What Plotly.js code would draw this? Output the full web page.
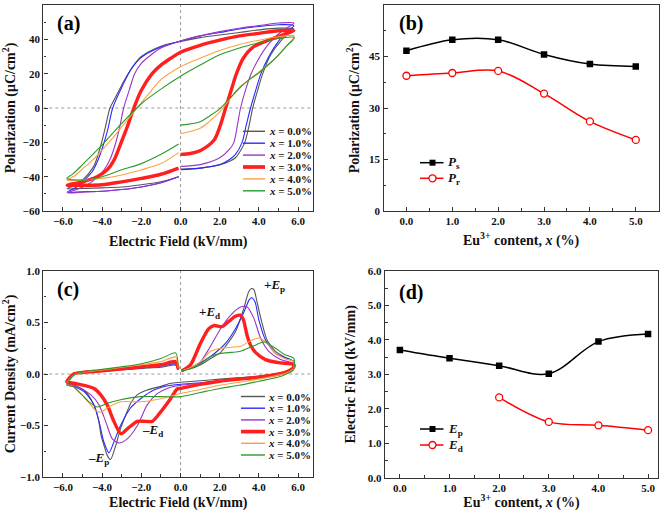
<!DOCTYPE html>
<html><head><meta charset="utf-8">
<script src="https://cdn.plot.ly/plotly-3.0.1.min.js"></script>
<style>html,body{margin:0;padding:0;background:#fff}</style>
</head><body><div id="chart" style="width:661px;height:511px"></div>
<script>
// ---------- DATA ----------
const compLabels = ['0.0', '1.0', '2.0', '3.0', '4.0', '5.0'];

// (a) P-E hysteresis loops (E in kV/mm, P in uC/cm2)
const peE_00 = [0,1,2,2.5,2.8,3.05,3.28,3.5,3.68,3.95,4.19,4.6,5.18,5.5,5.78,5,4,3,2,1,0,-1,-2,-2.38,-2.72,-3.06,-3.4,-3.6,-3.83,-4.09,-4.43,-5,-5.4,-5.78,-5,-4,-3,-2,-1,-0.1];
const peP_00 = [-35.5,-35,-33,-31,-29,-25,-20,-10,0,11,20,31,40,43.5,46,46.5,45.5,44,42.5,41,38.8,36,30,25,19,12,4.5,0,-11,-22.7,-34,-42,-45,-47,-46.8,-46.5,-46,-44.7,-43,-40];
const peE_10 = [0,1,2,2.5,2.8,3.14,3.35,3.57,3.85,4.1,4.5,5,5.4,5.78,5,4,3,2,1,0,-1,-2,-2.5,-3,-3.46,-3.7,-3.95,-4.2,-4.5,-4.9,-5.3,-5.78,-5,-4,-3,-2,-1,-0.1];
const peP_10 = [-36,-35,-33,-30,-27,-20,-10,0,11,20,30,39,44,48,48.5,47.5,46,44,42,39,35.5,29.5,23,12,0,-12,-22,-30,-37,-42,-46,-49,-48.8,-48.5,-47.5,-46,-43.5,-40];
const peE_20 = [0,1,2,2.5,2.72,2.9,3.06,3.3,3.6,3.9,4.25,4.7,5.2,5.78,5,4,3,2,1,0,-1,-1.5,-2,-2.34,-2.6,-2.9,-3.12,-3.35,-3.6,-3.9,-4.3,-4.8,-5.3,-5.78,-5,-4,-3,-2,-1,-0.1];
const peP_20 = [-34,-33,-29,-24,-20,-10,0,10,20,27,33.6,40,45,49.5,49.5,48,46.5,44.5,42,39,35,31,26,20,11,0,-12,-22,-30,-36,-41,-45,-47.5,-49.5,-49,-48.5,-47.5,-46,-43.5,-40];
const peE_30 = [0,0.5,1.02,1.7,2.0,2.3,2.6,2.85,3.2,3.7,4.6,5.2,5.78,5,4,3,2,1,0,-0.5,-1,-1.45,-2,-2.38,-2.72,-3.06,-3.4,-3.74,-4.26,-5,-5.78,-5,-4,-3,-2,-1,-0.1];
const peP_30 = [-27,-26.5,-24.7,-18.8,-11,0,11,20,29,35.5,40,42.5,45,45,43.5,42,39.5,36.5,32.5,29,25,20,10.3,0,-11,-21,-30.5,-36,-40,-43,-45,-45,-44.7,-43,-41,-38.6,-35];
const peE_40 = [0,1,1.5,2,2.5,3,3.5,4,4.5,5,5.4,5.8,5,4,3,2,1,0,-1,-1.5,-2,-2.5,-3,-3.5,-4,-4.5,-5,-5.4,-5.8,-5,-4,-3,-2,-1,-0.1];
const peP_40 = [-15,-11.8,-7.5,-2.3,5,12,16.5,21,25.5,30.7,36,42,41.5,39.5,37,33.5,29,24,16.5,10,3,-4,-11,-18,-24.5,-30.5,-35.5,-39.5,-42,-42,-41,-39,-36,-32.4,-26];
const peE_50 = [0,1,1.5,2,2.5,3,3.5,4,4.5,5,5.4,5.8,5,4,3,2,1,0,-1,-2,-3,-4,-5,-5.5,-5.8,-5,-4,-3,-2,-1,-0.1];
const peP_50 = [-10,-8,-4.5,-0.5,5.5,11.5,16.5,20.5,25.5,31,36,41,40.5,38,35,31,25,18.5,11,2.5,-9,-21.5,-33,-38.5,-41,-42,-40,-36,-32.4,-27,-21];

// (b) polarization vs Eu content
const euContent = [0, 1, 2, 3, 4, 5];
const Ps = [46.7, 49.9, 49.9, 45.6, 42.8, 42.1];
const Pr = [39.4, 40.2, 40.8, 34.2, 26.1, 20.7];

// (c) J-E loops (E in kV/mm, J in mA/cm2)
const jeE_00 = [0.05,0.5,1.02,1.53,2.04,2.3,2.8,3.23,3.48,3.62,3.74,3.9,4.16,4.41,4.84,5.35,5.78,5.75,5.4,5,4,3,2,1,0,-0.5,-1,-1.7,-2.2,-2.5,-2.8,-3.06,-3.3,-3.57,-3.74,-3.91,-4.05,-4.2,-4.5,-4.9,-5.4,-5.8,-5.45,-5,-4,-3,-2,-1,-0.25,-0.12];
const jeJ_00 = [0.03,0.05,0.09,0.15,0.21,0.27,0.41,0.64,0.8,0.83,0.82,0.7,0.49,0.33,0.22,0.16,0.12,0.06,0.02,0.005,-0.02,-0.035,-0.05,-0.065,-0.08,-0.09,-0.12,-0.155,-0.2,-0.27,-0.4,-0.53,-0.69,-0.83,-0.79,-0.69,-0.6,-0.43,-0.27,-0.16,-0.11,-0.075,0.0,0.015,0.025,0.04,0.055,0.065,0.085,0.04];
const jeE_10 = [0.05,0.5,1.02,1.53,2.04,2.3,2.8,3.23,3.5,3.62,3.8,4.0,4.33,4.84,5.3,5.78,5.75,5.4,5,4,3,2,1,0,-0.5,-1.36,-2.04,-2.55,-3.06,-3.4,-3.65,-3.91,-4.16,-4.41,-4.92,-5.43,-5.8,-5.45,-5,-4,-3,-2,-1,-0.25,-0.12];
const jeJ_10 = [0.03,0.06,0.11,0.17,0.25,0.3,0.44,0.6,0.72,0.74,0.7,0.52,0.33,0.2,0.16,0.12,0.06,0.02,0.0,-0.03,-0.05,-0.065,-0.085,-0.1,-0.11,-0.155,-0.24,-0.33,-0.5,-0.66,-0.765,-0.66,-0.46,-0.3,-0.17,-0.12,-0.09,0.0,0.015,0.03,0.045,0.06,0.075,0.095,0.04];
const jeE_20 = [0.05,0.5,1.02,1.53,2.04,2.55,3.06,3.4,3.74,4.08,4.5,5.1,5.78,5.75,5.4,5,4,3,2,1,0,-0.68,-1.19,-1.7,-2.2,-2.72,-3.14,-3.48,-3.82,-4.16,-4.58,-5.09,-5.8,-5.45,-5,-4,-3,-2,-1,-0.25,-0.12];
const jeJ_20 = [0.03,0.06,0.12,0.27,0.44,0.57,0.65,0.65,0.54,0.35,0.22,0.14,0.1,0.06,0.02,0.0,-0.03,-0.05,-0.07,-0.09,-0.11,-0.14,-0.19,-0.3,-0.5,-0.63,-0.67,-0.63,-0.46,-0.3,-0.2,-0.14,-0.09,0.0,0.015,0.03,0.045,0.06,0.08,0.1,0.04];
const jeE_30 = [0.05,0.51,1.02,1.44,1.7,2.12,2.46,2.8,3.06,3.2,3.4,3.6,3.82,4.33,5.0,5.78,5.75,5.4,5,4,3,2,1,0,-0.17,-0.51,-1.02,-1.44,-1.8,-2.2,-2.7,-3.04,-3.4,-3.74,-4.08,-4.41,-4.92,-5.43,-5.8,-5.45,-5,-4,-3,-2,-1,-0.25,-0.12];
const jeJ_30 = [0.03,0.09,0.3,0.44,0.47,0.46,0.51,0.56,0.57,0.53,0.37,0.27,0.21,0.14,0.11,0.09,0.06,0.02,0.0,-0.03,-0.05,-0.07,-0.1,-0.14,-0.145,-0.24,-0.37,-0.46,-0.46,-0.46,-0.53,-0.58,-0.46,-0.3,-0.2,-0.14,-0.11,-0.09,-0.075,0.0,0.015,0.03,0.05,0.07,0.09,0.12,0.05];
const jeE_40 = [0.05,0.5,1.02,1.53,2.04,2.6,3.06,3.65,4.0,4.4,4.84,5.3,5.78,5.75,5.4,5,4,3,2,1,0,-1,-2.04,-3.06,-3.74,-4.05,-4.3,-4.58,-5.09,-5.5,-5.8,-5.45,-5,-4,-3,-2,-1,-0.25,-0.12];
const jeJ_40 = [0.03,0.06,0.12,0.22,0.25,0.26,0.27,0.33,0.35,0.3,0.2,0.15,0.12,0.05,0.01,-0.01,-0.05,-0.08,-0.11,-0.15,-0.19,-0.24,-0.27,-0.27,-0.33,-0.37,-0.36,-0.3,-0.19,-0.12,-0.1,-0.01,0.015,0.04,0.065,0.09,0.12,0.165,0.06];
const jeE_50 = [0.05,0.5,1.02,1.53,2.04,2.6,3.06,3.7,4.25,4.84,5.3,5.78,5.75,5.4,5,4,3,2,1,0,-1,-2.04,-3.06,-3.74,-4.25,-4.67,-5.09,-5.5,-5.8,-5.45,-5,-4,-3,-2,-1,-0.25,-0.12];
const jeJ_50 = [0.03,0.05,0.1,0.17,0.2,0.21,0.22,0.27,0.31,0.25,0.19,0.15,0.04,0.0,-0.03,-0.07,-0.11,-0.14,-0.18,-0.22,-0.22,-0.22,-0.25,-0.285,-0.32,-0.27,-0.19,-0.12,-0.11,-0.01,0.02,0.045,0.07,0.1,0.15,0.205,0.08];

// (d) characteristic fields vs Eu content
const Ep = [3.71, 3.47, 3.25, 3.02, 3.95, 4.17];
const edContent = [2, 3, 4, 5];
const Ed = [2.33, 1.62, 1.52, 1.38];

// ---------- STYLE ----------
const W = 661, H = 511;
const FONT = '"Liberation Serif", "Times New Roman", serif';
const colors = ['#555555', '#2a2aff', '#9a35c8', '#ff1f1f', '#ffa040', '#2b9a2b'];
const widths = [1.1, 1.1, 1.1, 3.4, 1.1, 1.1];
const peE = [peE_00, peE_10, peE_20, peE_30, peE_40, peE_50];
const peP = [peP_00, peP_10, peP_20, peP_30, peP_40, peP_50];
const jeE = [jeE_00, jeE_10, jeE_20, jeE_30, jeE_40, jeE_50];
const jeJ = [jeJ_00, jeJ_10, jeJ_20, jeJ_30, jeJ_40, jeJ_50];

const traces = [];
compLabels.forEach((lab, i) => {
  traces.push({x: peE[i], y: peP[i], xaxis: 'x', yaxis: 'y', type: 'scatter', mode: 'lines',
    name: 'x = ' + lab + '%', line: {color: colors[i], width: widths[i], shape: 'spline', smoothing: 0.9}, showlegend: false});
});
compLabels.forEach((lab, i) => {
  traces.push({x: jeE[i], y: jeJ[i], xaxis: 'x3', yaxis: 'y3', type: 'scatter', mode: 'lines',
    name: 'x = ' + lab + '%', line: {color: colors[i], width: widths[i], shape: 'spline', smoothing: 0.7}, showlegend: false});
});
traces.push({x: euContent, y: Ps, xaxis: 'x2', yaxis: 'y2', mode: 'lines+markers', name: 'Ps',
  line: {color: '#000', width: 1.5, shape: 'spline', smoothing: 1}, marker: {symbol: 'square', size: 6.5, color: '#000'}, showlegend: false});
traces.push({x: euContent, y: Pr, xaxis: 'x2', yaxis: 'y2', mode: 'lines+markers', name: 'Pr',
  line: {color: '#ff0000', width: 1.5, shape: 'spline', smoothing: 1}, marker: {symbol: 'circle', size: 7, color: '#fff', line: {color: '#ff0000', width: 1.3}}, showlegend: false});
traces.push({x: euContent, y: Ep, xaxis: 'x4', yaxis: 'y4', mode: 'lines+markers', name: 'Ep',
  line: {color: '#000', width: 1.5, shape: 'spline', smoothing: 1}, marker: {symbol: 'square', size: 6.5, color: '#000'}, showlegend: false});
traces.push({x: edContent, y: Ed, xaxis: 'x4', yaxis: 'y4', mode: 'lines+markers', name: 'Ed',
  line: {color: '#ff0000', width: 1.5, shape: 'spline', smoothing: 1}, marker: {symbol: 'circle', size: 7, color: '#fff', line: {color: '#ff0000', width: 1.3}}, showlegend: false});

const tickFont = {family: FONT, size: 11, weight: 'bold', color: '#111'};
const titleFont = {family: FONT, size: 14, weight: 'bold', color: '#111'};
function ax(domain, range, anchor, extra) {
  return Object.assign({domain, range, anchor, showline: true, mirror: true, linecolor: '#333', linewidth: 1.4,
    ticks: 'inside', ticklen: 4, tickwidth: 1.1, tickcolor: '#333', showgrid: false, zeroline: false,
    tickfont: tickFont, fixedrange: true}, extra);
}
const fx = p => p / W, fy = p => 1 - p / H;
const dA = {x: [fx(43.3), fx(313.3)], y: [fy(211), fy(5)]};
const dB = {x: [fx(383.5), fx(658.7)], y: [fy(211), fy(5)]};
const dC = {x: [fx(43.3), fx(313.3)], y: [fy(477), fy(271)]};
const dD = {x: [fx(385), fx(658)], y: [fy(477.7), fy(271)]};
const minor = (dt) => ({dtick: dt, ticks: 'inside', ticklen: 2.5, tickwidth: 1, tickcolor: '#333'});

const layout = {
  width: W, height: H, margin: {l: 0, r: 0, t: 0, b: 0}, paper_bgcolor: '#fff', plot_bgcolor: '#fff',
  font: {family: FONT, color: '#111'}, showlegend: false,
  xaxis: ax(dA.x, [-7, 6.77], 'y', {tick0: -6, dtick: 2, tickformat: '.1f', minor: minor(1),
    title: {text: 'Electric Field (kV/mm)', font: titleFont, standoff: 9}}),
  yaxis: ax(dA.y, [-60, 60], 'x', {tick0: -60, dtick: 20, minor: minor(10),
    title: {text: 'Polarization (μC/cm<sup>2</sup>)', font: titleFont, standoff: 7}}),
  xaxis2: ax(dB.x, [-0.5, 5.5], 'y2', {tick0: 0, dtick: 1, tickformat: '.1f', minor: minor(0.5),
    title: {text: 'Eu<sup>3+</sup> content, <i>x</i> (%)', font: titleFont, standoff: 8}}),
  yaxis2: ax(dB.y, [0, 60], 'x2', {tick0: 0, dtick: 15, minor: minor(7.5),
    title: {text: 'Polarization (μC/cm<sup>2</sup>)', font: titleFont, standoff: 6}}),
  xaxis3: ax(dC.x, [-7, 6.77], 'y3', {tick0: -6, dtick: 2, tickformat: '.1f', minor: minor(1),
    title: {text: 'Electric Field (kV/mm)', font: titleFont, standoff: 17}}),
  yaxis3: ax(dC.y, [-1, 1], 'x3', {tick0: -1, dtick: 0.5, tickformat: '.1f', minor: minor(0.25),
    title: {text: 'Current Density (mA/cm<sup>2</sup>)', font: titleFont, standoff: 5}}),
  xaxis4: ax(dD.x, [-0.3, 5.2], 'y4', {tick0: 0, dtick: 1, tickformat: '.1f', minor: minor(0.5),
    title: {text: 'Eu<sup>3+</sup> content, <i>x</i> (%)', font: titleFont, standoff: 8}}),
  yaxis4: ax(dD.y, [0, 6], 'x4', {tick0: 0, dtick: 1, tickformat: '.1f', minor: minor(0.5),
    title: {text: 'Electric Field (kV/mm)', font: titleFont, standoff: 8}}),
  shapes: [], annotations: []
};

// dotted zero lines in (a) and (c)
[['x', 'y'], ['x3', 'y3']].forEach(([xa, ya]) => {
  layout.shapes.push({type: 'line', xref: xa, yref: ya + ' domain', x0: 0, x1: 0, y0: 0, y1: 1, line: {color: '#9a9a9a', width: 1, dash: 'dot'}, layer: 'below'});
  layout.shapes.push({type: 'line', xref: xa + ' domain', yref: ya, x0: 0, x1: 1, y0: 0, y1: 0, line: {color: '#9a9a9a', width: 1, dash: 'dot'}, layer: 'below'});
});

// panel labels
const panelLab = [['(a)', 'x domain', 'y domain', 0.044, 0.908], ['(b)', 'x2 domain', 'y2 domain', 0.049, 0.908],
                  ['(c)', 'x3 domain', 'y3 domain', 0.044, 0.912], ['(d)', 'x4 domain', 'y4 domain', 0.044, 0.898]];
panelLab.forEach(([t, xr, yr, x, y]) => layout.annotations.push({text: t, xref: xr, yref: yr, x, y, xanchor: 'left', yanchor: 'middle',
  showarrow: false, font: {family: FONT, size: 20, weight: 'bold', color: '#000'}}));

// peak labels in (c)
const peakLab = [['+<i>E</i><sub>p</sub>', 4.15, 0.86], ['+<i>E</i><sub>d</sub>', 0.85, 0.6],
                 ['–<i>E</i><sub>d</sub>', -2.05, -0.55], ['–<i>E</i><sub>p</sub>', -4.8, -0.82]];
peakLab.forEach(([t, x, y]) => layout.annotations.push({text: t, xref: 'x3', yref: 'y3', x, y, xanchor: 'left', yanchor: 'middle',
  showarrow: false, font: {family: FONT, size: 13, weight: 'bold', color: '#111'}}));

// legends for (a) and (c)
function compLegend(rows, lx0, lx1, tx) {
  compLabels.forEach((lab, i) => {
    const yy = fy(rows[i]);
    layout.shapes.push({type: 'line', xref: 'paper', yref: 'paper', x0: fx(lx0), x1: fx(lx1), y0: yy, y1: yy, line: {color: colors[i], width: widths[i] + 0.3}});
    layout.annotations.push({text: '<i>x</i> = ' + lab + '%', xref: 'paper', yref: 'paper', x: fx(tx), y: yy, xanchor: 'left', yanchor: 'middle',
      showarrow: false, font: {family: FONT, size: 11, weight: 'bold', color: '#111'}});
  });
}
compLegend([131.3, 143.2, 155.1, 167.0, 178.9, 190.8], 243, 265, 267);
compLegend([396.5, 408.2, 419.9, 431.6, 443.3, 455.0], 241, 265, 266);

// legends for (b) and (d)
function pairLegend(rows, texts) {
  const cols = ['#000', '#ff0000'];
  rows.forEach((r, i) => {
    const yy = fy(r);
    layout.shapes.push({type: 'line', xref: 'paper', yref: 'paper', x0: fx(420), x1: fx(443.5), y0: yy, y1: yy, line: {color: cols[i], width: 1.5}});
    if (i === 0) {
      layout.shapes.push({type: 'rect', xref: 'paper', yref: 'paper', x0: fx(429.5), x1: fx(435.5), y0: fy(r + 3), y1: fy(r - 3), fillcolor: '#000', line: {width: 0}});
    } else {
      layout.shapes.push({type: 'circle', xref: 'paper', yref: 'paper', x0: fx(429), x1: fx(436), y0: fy(r + 3.5), y1: fy(r - 3.5), fillcolor: '#fff', line: {color: '#ff0000', width: 1.3}});
    }
    layout.annotations.push({text: texts[i], xref: 'paper', yref: 'paper', x: fx(446), y: yy, xanchor: 'left', yanchor: 'middle',
      showarrow: false, font: {family: FONT, size: 13, weight: 'bold', color: '#111'}});
  });
}
pairLegend([162.7, 178.3], ['<i>P</i><sub>s</sub>', '<i>P</i><sub>r</sub>']);
pairLegend([429, 445], ['<i>E</i><sub>p</sub>', '<i>E</i><sub>d</sub>']);

Plotly.newPlot('chart', traces, layout, {displayModeBar: false});
</script></body></html>
